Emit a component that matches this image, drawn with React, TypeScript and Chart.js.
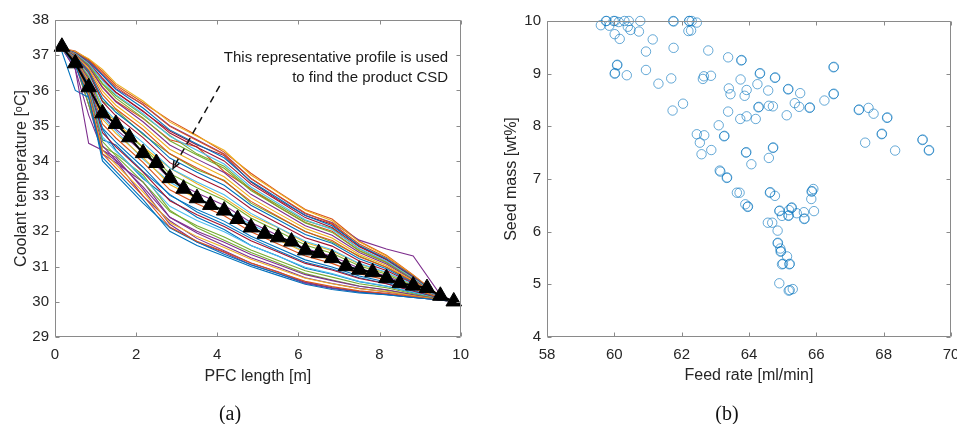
import React, { useEffect, useRef } from "react";
import { Chart, registerables } from "chart.js";

Chart.register(...registerables);

// ---------- Panel (a): coolant temperature profiles ----------
const X_PROFILE = [0.17, 0.5, 0.83, 1.17, 1.5, 2.17, 2.83, 3.5, 4.17, 4.83, 5.5, 6.17, 6.83, 7.5, 8.17, 8.83, 9.5, 9.83];

const P01 = [37.2, 36.7, 35.8, 34.1, 33.7, 32.9, 32.0, 31.6, 31.3, 31.0, 30.75, 30.5, 30.35, 30.25, 30.2, 30.12, 30.05, 30.0];
const P02 = [37.2, 36.72, 35.84, 34.2, 33.8, 33.01, 32.12, 31.72, 31.42, 31.1, 30.84, 30.58, 30.43, 30.31, 30.24, 30.15, 30.05, 30.0];
const P03 = [37.2, 36.73, 35.89, 34.3, 33.9, 33.12, 32.25, 31.85, 31.54, 31.21, 30.94, 30.67, 30.51, 30.37, 30.29, 30.17, 30.06, 30.0];
const P04 = [37.2, 36.75, 35.94, 34.43, 34.03, 33.26, 32.4, 32.0, 31.69, 31.34, 31.06, 30.77, 30.6, 30.44, 30.34, 30.2, 30.06, 30.0];
const P05 = [37.2, 36.77, 36.0, 34.55, 34.15, 33.4, 32.56, 32.16, 31.84, 31.47, 31.17, 30.88, 30.7, 30.51, 30.4, 30.23, 30.07, 30.0];
const P06 = [37.2, 36.79, 36.05, 34.68, 34.28, 33.54, 32.71, 32.31, 31.99, 31.6, 31.29, 30.98, 30.8, 30.58, 30.45, 30.27, 30.07, 30.0];
const P07 = [37.2, 36.81, 36.11, 34.8, 34.4, 33.68, 32.87, 32.47, 32.14, 31.73, 31.41, 31.09, 30.9, 30.66, 30.51, 30.3, 30.08, 30.0];
const P08 = [37.2, 36.83, 36.16, 34.93, 34.53, 33.82, 33.02, 32.62, 32.29, 31.86, 31.53, 31.19, 30.99, 30.73, 30.56, 30.33, 30.08, 30.0];
const P09 = [37.2, 36.85, 36.22, 35.05, 34.65, 33.96, 33.18, 32.78, 32.44, 31.99, 31.64, 31.3, 31.09, 30.8, 30.62, 30.36, 30.09, 30.0];
const P10 = [37.2, 36.87, 36.27, 35.18, 34.78, 34.1, 33.33, 32.93, 32.59, 32.12, 31.76, 31.4, 31.19, 30.87, 30.67, 30.39, 30.09, 30.0];
const P11 = [37.2, 36.89, 36.33, 35.3, 34.9, 34.24, 33.49, 33.09, 32.74, 32.25, 31.88, 31.51, 31.29, 30.95, 30.73, 30.42, 30.1, 30.0];
const P12 = [37.2, 36.91, 36.38, 35.43, 35.03, 34.38, 33.64, 33.24, 32.89, 32.38, 32.0, 31.61, 31.38, 31.02, 30.78, 30.45, 30.1, 30.0];
const P13 = [37.2, 36.93, 36.44, 35.55, 35.15, 34.52, 33.8, 33.4, 33.04, 32.51, 32.11, 31.72, 31.48, 31.09, 30.84, 30.49, 30.11, 30.0];
const P14 = [37.2, 36.95, 36.49, 35.68, 35.28, 34.66, 33.95, 33.55, 33.19, 32.64, 32.23, 31.82, 31.58, 31.16, 30.89, 30.52, 30.11, 30.0];
const P15 = [37.2, 36.97, 36.54, 35.78, 35.38, 34.78, 34.08, 33.68, 33.31, 32.74, 32.33, 31.91, 31.66, 31.22, 30.94, 30.54, 30.12, 30.0];
const P16 = [37.2, 36.98, 36.58, 35.88, 35.48, 34.89, 34.2, 33.8, 33.43, 32.85, 32.42, 31.99, 31.74, 31.28, 30.98, 30.57, 30.12, 30.0];
const P17 = [37.2, 37.0, 36.63, 35.98, 35.58, 35.0, 34.33, 33.93, 33.55, 32.95, 32.51, 32.08, 31.81, 31.34, 31.03, 30.59, 30.13, 30.0];
const P18 = [37.2, 37.02, 36.67, 36.08, 35.68, 35.11, 34.45, 34.05, 33.67, 33.05, 32.61, 32.16, 31.89, 31.4, 31.07, 30.62, 30.13, 30.0];
const P19 = [37.2, 37.03, 36.71, 36.18, 35.78, 35.22, 34.57, 34.17, 33.79, 33.16, 32.7, 32.24, 31.97, 31.45, 31.11, 30.64, 30.13, 30.0];
const P20 = [37.2, 37.05, 36.76, 36.28, 35.88, 35.34, 34.7, 34.3, 33.91, 33.26, 32.8, 32.33, 32.05, 31.51, 31.16, 30.67, 30.14, 30.0];
const P21 = [37.2, 37.06, 36.79, 36.35, 35.95, 35.42, 34.79, 34.39, 34.0, 33.34, 32.87, 32.39, 32.11, 31.56, 31.19, 30.69, 30.14, 30.0];
const P22 = [37.2, 37.07, 36.82, 36.43, 36.03, 35.5, 34.88, 34.48, 34.09, 33.42, 32.94, 32.45, 32.16, 31.6, 31.22, 30.71, 30.14, 30.0];
const P23 = [37.2, 37.08, 36.86, 36.5, 36.1, 35.59, 34.98, 34.58, 34.18, 33.5, 33.01, 32.52, 32.22, 31.64, 31.26, 30.73, 30.15, 30.0];
const P24 = [37.2, 37.1, 36.9, 36.6, 36.2, 35.7, 35.1, 34.7, 34.3, 33.6, 33.1, 32.6, 32.3, 31.7, 31.3, 30.75, 30.15, 30.0];
const P25 = [37.2, 36.6, 34.5, 34.3, 34.0, 33.0, 32.3, 31.8, 31.45, 31.1, 30.85, 30.55, 30.4, 30.3, 30.22, 30.13, 30.05, 30.0];
const P26 = [37.1, 36.0, 35.8, 34.0, 33.6, 32.8, 32.1, 31.7, 31.35, 31.05, 30.8, 30.55, 30.4, 30.28, 30.2, 30.12, 30.05, 30.0];
const P27 = [37.2, 37.08, 36.85, 36.45, 36.05, 35.6, 35.0, 34.6, 34.2, 33.5, 33.0, 32.5, 32.25, 31.75, 31.5, 31.3, 30.2, 30.0];
const P28 = [37.2, 36.6, 35.3, 34.3, 34.1, 33.2, 32.2, 31.7, 31.4, 31.05, 30.8, 30.52, 30.38, 30.27, 30.21, 30.13, 30.05, 30.0];
const P29 = [37.15, 36.8, 35.6, 34.4, 34.2, 33.6, 32.6, 32.1, 31.75, 31.4, 31.1, 30.8, 30.62, 30.45, 30.33, 30.2, 30.07, 30.0];
const P30 = [37.2, 36.85, 36.0, 34.9, 34.3, 33.5, 32.9, 32.4, 32.05, 31.6, 31.3, 30.95, 30.78, 30.57, 30.44, 30.26, 30.08, 30.0];
const P31 = [37.2, 37.0, 36.7, 36.1, 35.7, 35.2, 34.6, 34.4, 33.7, 33.2, 32.7, 32.25, 32.0, 31.45, 31.12, 30.66, 30.13, 30.0];
const P32 = [37.2, 37.05, 36.75, 36.3, 35.95, 35.4, 34.85, 34.45, 34.15, 33.4, 32.9, 32.45, 32.2, 31.58, 31.2, 30.7, 30.14, 30.0];
const P33 = [37.2, 36.95, 36.55, 35.7, 35.45, 34.75, 34.2, 33.75, 33.45, 32.8, 32.4, 32.0, 31.7, 31.3, 30.98, 30.57, 30.12, 30.0];
const P34 = [37.2, 36.9, 36.4, 35.5, 35.1, 34.4, 33.8, 33.35, 32.95, 32.45, 32.1, 31.68, 31.45, 31.07, 30.82, 30.48, 30.11, 30.0];
const P35 = [37.2, 36.88, 36.3, 35.25, 34.85, 34.05, 33.4, 32.95, 32.6, 32.2, 31.8, 31.42, 31.2, 30.9, 30.69, 30.4, 30.09, 30.0];
const P36 = [37.2, 36.75, 35.6, 34.2, 33.95, 33.4, 32.4, 31.95, 31.6, 31.25, 30.98, 30.68, 30.52, 30.38, 30.28, 30.17, 30.06, 30.0];
const P37 = [37.2, 36.82, 36.15, 34.6, 34.45, 33.7, 33.05, 32.55, 32.2, 31.8, 31.45, 31.12, 30.93, 30.68, 30.52, 30.31, 30.08, 30.0];
const P38 = [37.2, 37.12, 36.88, 36.55, 36.15, 35.65, 35.15, 34.72, 34.25, 33.65, 33.12, 32.62, 32.35, 31.72, 31.32, 30.76, 30.15, 30.0];
const P39 = [37.2, 37.04, 36.72, 36.2, 35.85, 35.3, 34.72, 34.2, 33.85, 33.2, 32.75, 32.3, 32.08, 31.5, 31.14, 30.66, 30.14, 30.0];

const PROFILES = [P01, P02, P03, P04, P05, P06, P07, P08, P09, P10, P11, P12, P13, P14,
  P15, P16, P17, P18, P19, P20, P21, P22, P23, P24, P25, P26, P27, P28, P29, P30, P31,
  P32, P33, P34, P35, P36, P37, P38, P39];
const PROFILE_COLOR_IDX = [0, 1, 2, 3, 4, 5, 6, 0, 1, 2, 3, 4, 5, 6, 0, 1, 2, 3, 4, 5, 6, 0, 1, 2, 3, 0, 3,
  3, 4, 0, 1, 6, 4, 2, 5, 3, 0, 1, 4];

const X_REP = [0.17, 0.5, 0.83, 1.17, 1.5, 1.83, 2.17, 2.5, 2.83, 3.17, 3.5, 3.83, 4.17, 4.5, 4.83,
  5.17, 5.5, 5.83, 6.17, 6.5, 6.83, 7.17, 7.5, 7.83, 8.17, 8.5, 8.83, 9.17, 9.5, 9.83];
const T_REP = [37.24, 36.77, 36.09, 35.35, 35.05, 34.67, 34.22, 33.94, 33.51, 33.21, 32.94, 32.75, 32.59, 32.35, 32.11,
  31.93, 31.83, 31.71, 31.46, 31.38, 31.24, 31.01, 30.91, 30.84, 30.67, 30.53, 30.46, 30.39, 30.17, 30.01];

const ANNOT_LINES = ["This representative profile is used", "to find the product CSD"];
const ANNOT_X = 9.69;
const ANNOT_Y = [36.92, 36.35];
const ARROW_FROM = [4.06, 36.13];
const ARROW_TO = [2.91, 33.79];

// ---------- Panel (b): seed mass vs feed rate ----------
const FEED_RATE = [
  59.60, 59.75, 59.77, 59.85, 59.98, 60.02, 60.13, 60.30, 60.43, 60.40, 60.48, 60.77, 60.73, 60.01, 60.16,
  61.14, 61.75, 61.76, 61.76, 62.22, 62.23, 62.30, 62.45, 62.20, 62.28, 62.79, 60.94, 63.38, 63.77, 63.78,
  60.08, 60.09, 60.01, 60.02, 60.37, 60.94, 61.31, 61.69, 62.63, 62.66, 62.87, 62.04, 61.73, 63.40, 63.45,
  63.75, 63.93, 63.87, 64.32, 64.33, 64.25, 64.77, 64.78, 64.57, 64.28, 64.29, 64.59, 64.71, 65.16, 65.17,
  65.52, 65.36, 65.49, 65.80, 65.81, 65.12, 66.51, 66.52, 66.51, 66.52, 66.24, 67.26, 67.27, 67.55, 67.70,
  68.10, 68.11, 67.94, 67.95, 67.45, 68.34, 69.15, 69.16, 69.34, 69.35, 63.38, 63.74, 63.93, 64.20, 63.10,
  62.45, 62.67, 62.54, 62.59, 62.88, 63.26, 63.27, 63.91, 63.92, 64.07, 64.71, 64.72, 64.59, 63.13, 63.15,
  63.34, 63.35, 63.64, 63.72, 63.89, 63.96, 63.97, 64.62, 64.63, 64.77, 64.90, 64.91, 64.98, 65.17, 65.18,
  65.26, 65.27, 65.19, 65.42, 65.63, 65.64, 65.65, 65.86, 65.87, 65.91, 65.85, 65.93, 64.56, 64.69, 64.85,
  64.85, 64.86, 64.93, 64.94, 64.95, 65.13, 64.98, 65.01, 65.20, 65.21, 64.90, 65.18, 65.21, 65.30,
];
const SEED_MASS = [
  9.92, 10.00, 10.00, 9.91, 10.00, 10.00, 9.98, 10.00, 10.00, 9.89, 9.83, 10.00, 9.80, 9.75, 9.66,
  9.65, 10.00, 9.99, 9.49, 10.00, 10.00, 10.00, 9.97, 9.81, 9.82, 9.44, 9.42, 9.31, 9.25, 9.26,
  9.16, 9.17, 9.00, 9.01, 8.97, 9.07, 8.81, 8.91, 8.90, 8.95, 8.96, 8.43, 8.30, 8.72, 8.61,
  8.89, 8.69, 8.58, 9.00, 9.01, 8.80, 8.92, 8.93, 8.68, 8.36, 8.37, 8.39, 8.38, 8.70, 8.71,
  8.63, 8.44, 8.37, 8.35, 8.36, 8.21, 9.12, 9.13, 8.61, 8.62, 8.49, 8.31, 8.32, 8.35, 8.24,
  8.16, 8.17, 7.85, 7.86, 7.69, 7.54, 7.74, 7.75, 7.54, 7.55, 8.28, 8.14, 8.19, 8.14, 8.02,
  7.85, 7.83, 7.69, 7.47, 7.55, 7.81, 7.82, 7.50, 7.51, 7.28, 7.59, 7.60, 7.40, 7.16, 7.14,
  7.02, 7.03, 6.74, 6.74, 6.52, 6.47, 6.48, 6.74, 6.75, 6.68, 6.39, 6.40, 6.30, 6.30, 6.31,
  6.45, 6.46, 6.41, 6.35, 6.37, 6.24, 6.25, 6.76, 6.77, 6.81, 6.62, 6.39, 6.17, 6.17, 6.02,
  5.78, 5.79, 5.68, 5.62, 5.63, 5.53, 5.38, 5.39, 5.38, 5.39, 5.02, 4.88, 4.89, 4.91,
];

const MATLAB_COLORS = ["#0072BD", "#D95319", "#EDB120", "#7E2F8E", "#77AC30", "#4DBEEE", "#A2142F"];
const AXIS_COLOR = "#8a8a8a";
const LABEL_COLOR = "#262626";
const SANS = '"Liberation Sans", Arial, Helvetica, sans-serif';

const boxPlugin = {
  id: "matlabBox",
  afterDatasetsDraw(chart: any) {
    const { ctx, chartArea } = chart;
    const { left, right, top, bottom } = chartArea;
    const xs = chart.scales.x;
    const ys = chart.scales.y;
    const L = Math.round(left) + 0.5;
    const R = Math.round(right) - 0.5;
    const T = Math.round(top) + 0.5;
    const B = Math.round(bottom) - 0.5;
    ctx.save();
    ctx.strokeStyle = AXIS_COLOR;
    ctx.lineWidth = 1;
    ctx.beginPath();
    ctx.rect(L, T, R - L, B - T);
    const tl = 4;
    xs.ticks.forEach((t: any) => {
      const px = Math.round(xs.getPixelForValue(t.value)) + 0.5;
      ctx.moveTo(px, B);
      ctx.lineTo(px, B - tl);
      ctx.moveTo(px, T);
      ctx.lineTo(px, T + tl);
    });
    ys.ticks.forEach((t: any) => {
      const py = Math.round(ys.getPixelForValue(t.value)) + 0.5;
      ctx.moveTo(L, py);
      ctx.lineTo(L + tl, py);
      ctx.moveTo(R, py);
      ctx.lineTo(R - tl, py);
    });
    ctx.stroke();
    ctx.restore();
  },
};

const annotationPlugin = {
  id: "profileAnnotation",
  afterDatasetsDraw(chart: any) {
    const { ctx } = chart;
    const xs = chart.scales.x;
    const ys = chart.scales.y;
    ctx.save();
    ctx.font = `15px ${SANS}`;
    ctx.fillStyle = "#1a1a1a";
    ctx.textAlign = "right";
    ctx.textBaseline = "middle";
    ANNOT_LINES.forEach((line, i) => {
      ctx.fillText(line, xs.getPixelForValue(ANNOT_X), ys.getPixelForValue(ANNOT_Y[i]));
    });
    const x1 = xs.getPixelForValue(ARROW_FROM[0]);
    const y1 = ys.getPixelForValue(ARROW_FROM[1]);
    const x2 = xs.getPixelForValue(ARROW_TO[0]);
    const y2 = ys.getPixelForValue(ARROW_TO[1]);
    ctx.strokeStyle = "#111";
    ctx.lineWidth = 1.5;
    ctx.setLineDash([7, 5]);
    ctx.beginPath();
    ctx.moveTo(x1, y1);
    ctx.lineTo(x2, y2);
    ctx.stroke();
    ctx.setLineDash([]);
    const ang = Math.atan2(y2 - y1, x2 - x1);
    const hl = 8;
    ctx.beginPath();
    ctx.moveTo(x2 - hl * Math.cos(ang - 0.4), y2 - hl * Math.sin(ang - 0.4));
    ctx.lineTo(x2, y2);
    ctx.lineTo(x2 - hl * Math.cos(ang + 0.4), y2 - hl * Math.sin(ang + 0.4));
    ctx.stroke();
    ctx.restore();
  },
};

function axisCommon(min: number, max: number, step: number, titleText: string, isX: boolean, titlePad: any) {
  return {
    type: "linear" as const,
    min,
    max,
    grid: { display: false, drawTicks: false },
    border: { display: false },
    ticks: {
      stepSize: step,
      color: LABEL_COLOR,
      font: { family: SANS, size: 15 },
      padding: isX ? 9 : 6,
    },
    title: {
      display: true,
      text: titleText,
      color: LABEL_COLOR,
      font: { family: SANS, size: 16 },
      padding: titlePad,
    },
  };
}

export default function App() {
  const leftRef = useRef<HTMLCanvasElement | null>(null);
  const rightRef = useRef<HTMLCanvasElement | null>(null);

  useEffect(() => {
    const profileSets = PROFILES.map((p, i) => ({
      data: X_PROFILE.map((x, j) => ({ x, y: p[j] })),
      borderColor: MATLAB_COLORS[PROFILE_COLOR_IDX[i]],
      borderWidth: 1.1,
      pointRadius: 0,
      fill: false,
      tension: 0,
      order: 2,
    }));
    const repSet = {
      data: X_REP.map((x, j) => ({ x, y: T_REP[j] })),
      borderColor: "#000",
      backgroundColor: "#000",
      borderWidth: 2,
      pointStyle: "triangle",
      pointRadius: 9,
      pointBorderWidth: 1,
      fill: false,
      tension: 0,
      order: 0,
      clip: false,
    };

    const left = new Chart(leftRef.current as HTMLCanvasElement, {
      type: "line",
      data: { datasets: [...profileSets, repSet] as any },
      options: {
        animation: false,
        responsive: false,
        maintainAspectRatio: false,
        events: [],
        layout: { padding: { left: 0, right: 16, top: 20, bottom: 0 } },
        plugins: { legend: { display: false }, tooltip: { enabled: false } },
        scales: {
          x: {
            ...axisCommon(0, 10, 2, "PFC length [m]", true, { top: 0, bottom: 38 }),
            afterFit: (s: any) => { s.height = 87; },
          },
          y: {
            ...axisCommon(29, 38, 1, "Coolant temperature [ᵒC]", false, { top: 12, bottom: 0 }),
            afterFit: (s: any) => { s.width = 55; },
          },
        } as any,
      },
      plugins: [boxPlugin, annotationPlugin],
    });

    const right = new Chart(rightRef.current as HTMLCanvasElement, {
      type: "scatter",
      data: {
        datasets: [
          {
            data: FEED_RATE.map((x, j) => ({ x, y: SEED_MASS[j] })),
            borderColor: "rgba(0,114,189,0.6)",
            backgroundColor: "rgba(0,0,0,0)",
            borderWidth: 1,
            pointRadius: 4.7,
            pointStyle: "circle",
            clip: false,
          } as any,
        ],
      },
      options: {
        animation: false,
        responsive: false,
        maintainAspectRatio: false,
        events: [],
        layout: { padding: { left: 0, right: 24, top: 21, bottom: 0 } },
        plugins: { legend: { display: false }, tooltip: { enabled: false } },
        scales: {
          x: {
            ...axisCommon(58, 70, 2, "Feed rate [ml/min]", true, { top: 0, bottom: 39 }),
            afterFit: (s: any) => { s.height = 87; },
          },
          y: {
            ...axisCommon(4, 10, 1, "Seed mass [wt%]", false, { top: 24, bottom: 0 }),
            afterFit: (s: any) => { s.width = 69; },
          },
        } as any,
      },
      plugins: [boxPlugin],
    });

    return () => {
      left.destroy();
      right.destroy();
    };
  }, []);

  const caption: React.CSSProperties = {
    position: "absolute",
    top: 413,
    transform: "translate(-50%, -50%)",
    fontFamily: '"Liberation Serif", "Times New Roman", serif',
    fontSize: 20,
    color: "#111",
    whiteSpace: "nowrap",
  };

  return (
    <div style={{ position: "fixed", left: 0, top: 0, width: 957, height: 424, overflow: "hidden", background: "#fff" }}>
      <canvas ref={leftRef} width={478} height={424} style={{ position: "absolute", left: 0, top: 0, width: 478, height: 424 }} />
      <canvas ref={rightRef} width={497} height={424} style={{ position: "absolute", left: 478, top: 0, width: 497, height: 424 }} />
      <div style={{ ...caption, left: 230 }}>(a)</div>
      <div style={{ ...caption, left: 727 }}>(b)</div>
    </div>
  );
}
